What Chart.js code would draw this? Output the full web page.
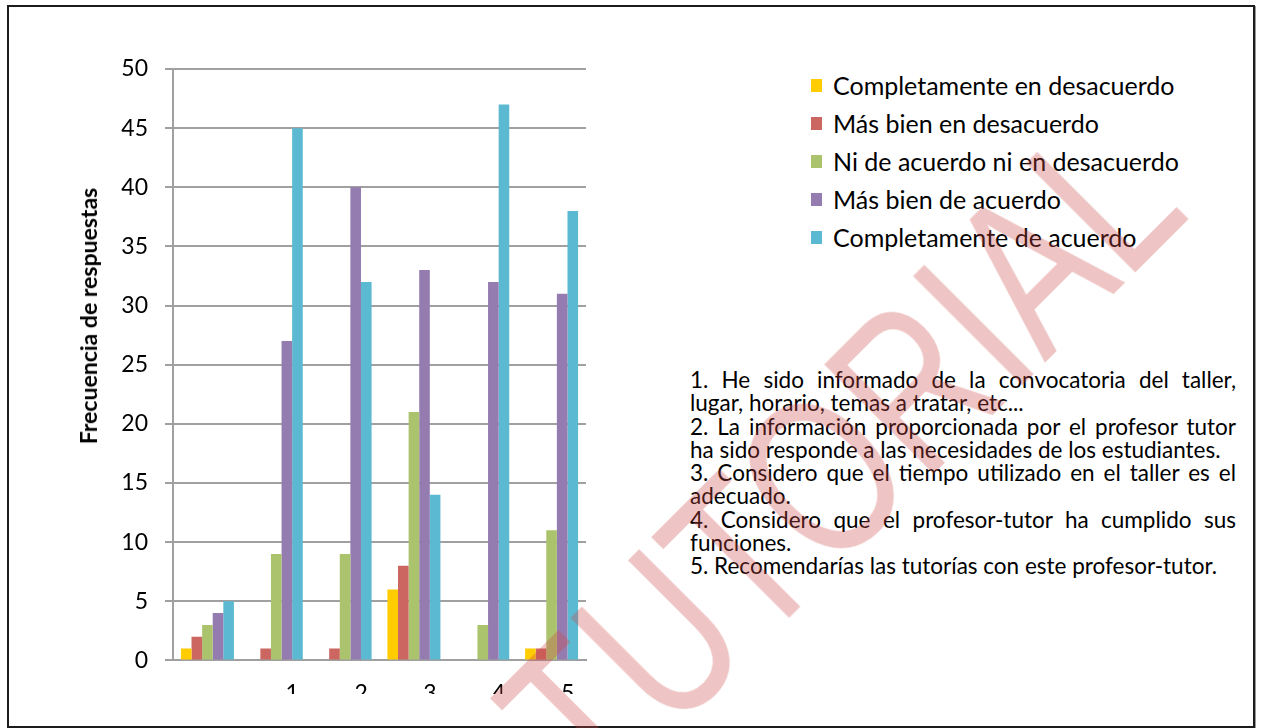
<!DOCTYPE html>
<html>
<head>
<meta charset="utf-8">
<script src="https://cdn.jsdelivr.net/npm/chart.js@4.4.1/dist/chart.umd.min.js"></script>
<style>
    body { margin: 0; background: #fff; }
    #page { position: relative; width: 1262px; height: 728px; overflow: hidden; font-family: Lato, "Open Sans", sans-serif; color: #000; }
    #frame { position: absolute; left: 7px; top: 5px; width: 1244px; height: 719px; border: 2px solid #1c1c1c; box-shadow: 1px 1px 0 #999; }
    #plotWrap { position: absolute; left: 0; top: 0; width: 600px; height: 694px; overflow: hidden; }
    #ytitle { position: absolute; left: 88px; top: 316px; transform: translate(-50%, -50%) rotate(-90deg); font-weight: bold; font-size: 23px; white-space: nowrap; }
    #legend { position: absolute; left: 811px; top: 66px; }
    .item { height: 38px; display: flex; align-items: center; font-size: 25px; white-space: nowrap; }
    .box { width: 11px; height: 13px; margin-right: 11px; }
    #notes { position: absolute; left: 690px; top: 368px; width: 546px; font-size: 22.5px; line-height: 23.3px; }
    .j { text-align: justify; text-align-last: justify; }
    #watermark { position: absolute; left: 840px; top: 458px; font-family: "Liberation Sans", Arial, sans-serif; font-size: 225px; line-height: 1; color: rgba(204, 70, 70, 0.32); white-space: nowrap; transform: translate(-50%, -50%) rotate(-45deg) scaleX(0.76); pointer-events: none; }
</style>
</head>
<body>
<div id="page">
    <div id="frame"></div>
    <div id="plotWrap"><canvas id="grafico" width="600" height="728"></canvas></div>
    <div id="ytitle">Frecuencia de respuestas</div>
    <div id="legend"></div>
    <div id="notes">
        <div class="j">1. He sido informado de la convocatoria del taller,</div>
        <div>lugar, horario, temas a tratar, etc...</div>
        <div class="j">2. La información proporcionada por el profesor tutor</div>
        <div>ha sido responde a las necesidades de los estudiantes.</div>
        <div class="j">3. Considero que el tiempo utilizado en el taller es el</div>
        <div>adecuado.</div>
        <div class="j">4. Considero que el profesor-tutor ha cumplido sus</div>
        <div>funciones.</div>
        <div>5. Recomendarías las tutorías con este profesor-tutor.</div>
    </div>
    <div id="watermark">TUTORIAL</div>
</div>
<script>
// Datos
const categorias = ['', '1', '2', '3', '4', '5'];
const nombresSeries = [
    'Completamente en desacuerdo',
    'Más bien en desacuerdo',
    'Ni de acuerdo ni en desacuerdo',
    'Más bien de acuerdo',
    'Completamente de acuerdo'
];
const completamenteDesacuerdo = [1, 0, 0, 6, 0, 1];
const masBienDesacuerdo = [2, 1, 1, 8, 0, 1];
const niAcuerdoNiDesacuerdo = [3, 9, 9, 21, 3, 11];
const masBienAcuerdo = [4, 27, 40, 33, 32, 31];
const completamenteAcuerdo = [5, 45, 32, 14, 47, 38];
const yMin = 0;
const yMax = 50;
const yPaso = 5;

const colores = ['#FFCC00', '#CC6660', '#AAC36C', '#947CB0', '#5BB9D2'];
const valores = [completamenteDesacuerdo, masBienDesacuerdo, niAcuerdoNiDesacuerdo, masBienAcuerdo, completamenteAcuerdo];

const fuenteEje = { family: 'Lato, "Open Sans", sans-serif', size: 23 };

const chart = new Chart(document.getElementById('grafico').getContext('2d'), {
    type: 'bar',
    data: {
        labels: categorias,
        datasets: nombresSeries.map((nombre, i) => ({
            label: nombre,
            data: valores[i],
            backgroundColor: colores[i],
            borderWidth: 0,
            categoryPercentage: 0.77,
            barPercentage: 1.0
        }))
    },
    options: {
        responsive: false,
        animation: false,
        layout: { padding: { left: 0, right: 14, top: 69, bottom: 2 } },
        plugins: {
            legend: { display: false },
            tooltip: { enabled: false }
        },
        scales: {
            x: {
                grid: { display: false, drawTicks: false },
                border: { color: '#a0a0a0', width: 2 },
                ticks: { font: fuenteEje, color: '#000', padding: 19, labelOffset: 16, maxRotation: 0 }
            },
            y: {
                min: yMin,
                max: yMax,
                ticks: { stepSize: yPaso, font: fuenteEje, color: '#000', padding: 17 },
                grid: { color: '#a0a0a0', lineWidth: 2, tickLength: 8 },
                border: { color: '#a0a0a0', width: 2 },
                afterFit: (scale) => { scale.width = 173; }
            }
        }
    }
});

// Leyenda en HTML a partir de los datasets del gráfico
const legendEl = document.getElementById('legend');
chart.data.datasets.forEach(ds => {
    const item = document.createElement('div');
    item.className = 'item';
    const box = document.createElement('span');
    box.className = 'box';
    box.style.background = ds.backgroundColor;
    item.appendChild(box);
    item.appendChild(document.createTextNode(ds.label));
    legendEl.appendChild(item);
});
</script>
</body>
</html>
